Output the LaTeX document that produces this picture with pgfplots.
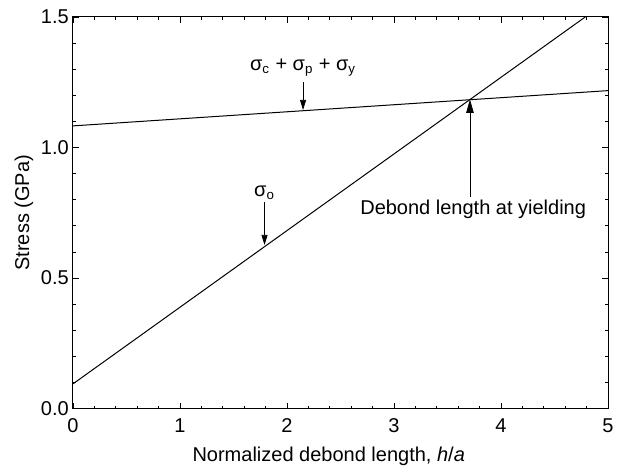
\documentclass[border=0pt]{standalone}
\usepackage{fontspec}
\setmainfont{Liberation Sans}
\usepackage{pgfplots}
\pgfplotsset{compat=1.18}
\usetikzlibrary{arrows.meta}

% stress curves vs normalized debond length
\pgfplotstableread{
x     y
0     1.083
5     1.218
}\critical
\pgfplotstableread{
x     y
0     0.095
4.787 1.500
}\applied

\begin{document}
\begin{tikzpicture}[font=\fontsize{12}{14}\selectfont,
  lbl/.style={font=\fontsize{12}{14}\selectfont, inner sep=1pt},
  arr/.style={-{Triangle[length=6pt,width=3.6pt]}, line width=0.4pt}]
\begin{axis}[
  name=ax,
  scale only axis,
  width=321pt, height=235pt,
  xmin=0, xmax=5, ymin=0, ymax=1.5,
  xtick={0,1,2,3,4,5},
  ytick={0,0.5,1,1.5},
  minor x tick num=4,
  minor y tick num=4,
  major tick length=3.5pt,
  minor tick length=1.8pt,
  tick style={line width=0.5pt, black},
  axis line style={line width=0.6pt},
  /pgf/number format/assume math mode=true,
  yticklabel={\pgfmathprintnumber[fixed,fixed zerofill,precision=1,assume math mode=true]{\tick}},
  xticklabel style={yshift=-2.5pt},
  yticklabel style={xshift=1pt},
  xlabel={Normalized debond length, \textit{h}/\textit{a}},
  ylabel={Stress (GPa)},
  xlabel style={at={(axis description cs:0.478,0)}, anchor=center, yshift=-28.8pt},
  ylabel style={at={(axis description cs:0,0.5)}, anchor=center, yshift=29.4pt},
  clip=false,
]
\addplot[black, line width=0.6pt] table[x=x,y=y] {\critical};
\addplot[black, line width=0.6pt] table[x=x,y=y] {\applied};

% labels and arrows
\node[lbl] at (axis cs:2.15,1.305) {σ\textsubscript{c} + σ\textsubscript{p} + σ\textsubscript{y}};
\draw[arr] (axis cs:2.15,1.251) -- (axis cs:2.15,1.144);

\node[lbl] at (axis cs:1.79,0.827) {σ\textsubscript{o}};
\draw[arr] (axis cs:1.79,0.792) -- (axis cs:1.79,0.627);

\node[lbl] at (axis cs:3.74,0.762) {Debond length at yielding};
\draw[-{Triangle[length=8pt,width=4.5pt]}, line width=0.4pt] (axis cs:3.71,0.81) -- (axis cs:3.71,1.184);
\end{axis}
% fixed margins around the axis box
\path (ax.south west) ++(-43.8pt,-39pt) coordinate (bl);
\path (ax.north east) ++(7.8pt,10.2pt) coordinate (tr);
\useasboundingbox (bl) rectangle (tr);
\end{tikzpicture}
\end{document}
